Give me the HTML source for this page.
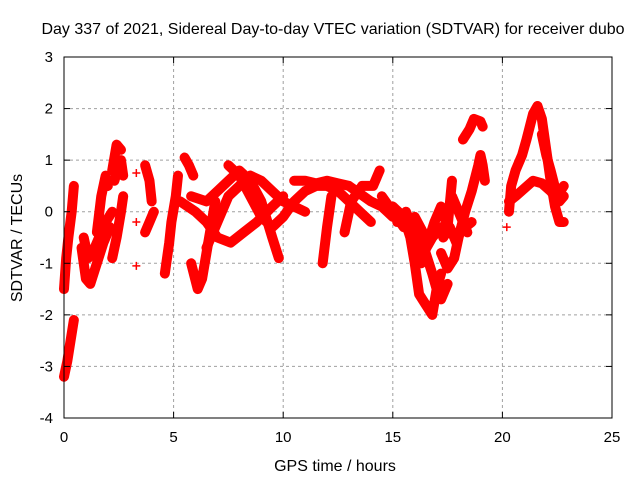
<!DOCTYPE html>
<html><head><meta charset="utf-8"><style>
body{margin:0;background:#fff}
svg{display:block;font-family:"Liberation Sans",sans-serif}
</style></head><body>
<svg id="chart" width="640" height="480">
<rect width="640" height="480" fill="#fff"/>
<text x="333" y="34" font-size="16" text-anchor="middle">Day 337 of 2021, Sidereal Day-to-day VTEC variation (SDTVAR) for receiver dubo</text>
<text x="335" y="471" font-size="16" text-anchor="middle">GPS time / hours</text>
<text transform="translate(22,238) rotate(-90)" font-size="16" text-anchor="middle">SDTVAR / TECUs</text>
<g id="grid"></g><g id="marks"></g>
<rect x="64" y="57" width="548" height="361" fill="none" stroke="#000" stroke-width="1"/>
<g id="ticks"></g>
</svg>
<script>
const xTicks=[0,5,10,15,20,25];
const yTicks=[-4,-3,-2,-1,0,1,2,3];
const trackTimes=[
[0.0,0.1,0.2,0.35,0.45],
[0.0,0.15,0.3,0.45],
[0.8,1.0,1.2,1.5,1.8,2.1],
[1.5,1.7,1.9,2.0],
[2.2,2.4,2.6],
[2.2,2.4,2.6,2.7],
[3.7,3.9,4.0],
[3.7,3.9,4.1],
[4.6,4.8,4.9,5.1,5.2],
[5.5,5.7,5.9],
[5.8,6.1,6.3,6.5,6.7,6.9],
[5.3,6.0,6.5,7.0,7.6,8.2,8.8,9.5,10.0],
[5.8,6.5,7.0,7.5,8.0,8.5,9.0,9.5,9.8],
[6.5,7.0,7.5,8.0,8.5,9.0,9.5,10.0,10.5,11.0],
[7.5,8.0,8.5,9.0,9.5,10.0,10.5,11.0,11.5,12.0,12.5,13.0,13.5,14.0],
[10.5,11.0,11.5,12.0,12.5,13.0,13.5,14.0,14.5,15.0],
[12.2,12.0,11.8],
[12.8,13.1,13.6,14.1,14.4],
[15.0,15.5,15.8,16.0,16.2,16.5,16.8,17.0,17.2],
[16.0,16.3,16.6,16.9,17.2,17.5,17.7],
[17.2,17.5,17.8,18.0,18.3,18.6,18.9,19.0,19.1,19.2],
[18.2,18.5,18.7,19.0,19.1],
[17.7,18.0,18.3,18.6],
[20.3,20.4,20.6,20.9,21.1,21.4,21.6,21.8,22.0,22.2,22.4,22.6,22.8],
[20.3,20.6,21.0,21.4,21.8,22.2,22.6,22.8],
[21.8,22.0,22.2,22.5,22.8],
[14.5,15.0,15.5,16.0,16.5],
[15.2,15.6,16.0,16.4,16.8,17.2],
[16.5,16.8,17.0,17.2,17.5],
[17.3,17.6,17.9,18.2,18.4],
[0.9,1.1,1.3,1.6,1.9,2.2],
[2.3,2.5,2.6,2.7]
];
const trackValues=[
[-1.5,-0.9,-0.5,0.0,0.5],
[-3.2,-2.9,-2.5,-2.1],
[-0.7,-1.3,-1.4,-1.0,-0.6,-0.3],
[-0.4,0.3,0.7,0.5],
[0.8,1.3,1.2],
[-0.9,-0.5,0.0,0.3],
[0.9,0.6,0.2],
[-0.4,-0.2,0.0],
[-1.2,-0.6,-0.2,0.3,0.7],
[1.05,0.9,0.7],
[-1.0,-1.5,-1.3,-0.8,-0.3,0.2],
[0.2,0.0,-0.2,-0.5,-0.6,-0.4,-0.2,0.1,0.3],
[0.3,0.2,0.4,0.6,0.8,0.6,0.2,-0.5,-0.9],
[-0.7,-0.2,0.3,0.5,0.7,0.6,0.4,0.2,0.1,0.0],
[0.9,0.7,0.3,-0.1,-0.3,-0.1,0.2,0.4,0.5,0.5,0.4,0.2,0.0,-0.2],
[0.6,0.6,0.55,0.6,0.55,0.5,0.35,0.2,0.1,-0.1],
[0.3,-0.3,-1.0],
[-0.4,0.2,0.5,0.5,0.8],
[0.1,-0.1,-0.5,-1.0,-1.6,-1.8,-2.0,-1.5,-1.2],
[-0.5,-1.0,-0.6,-0.2,0.1,-0.3,0.6],
[-0.8,-1.1,-0.9,-0.5,0.0,0.4,0.9,1.1,0.9,0.6],
[1.4,1.6,1.8,1.75,1.65],
[0.3,0.0,-0.3,-0.2],
[0.0,0.5,0.8,1.1,1.4,1.9,2.05,1.8,1.2,0.6,0.1,-0.2,-0.2],
[0.2,0.3,0.45,0.6,0.55,0.4,0.2,0.3],
[1.5,1.1,0.8,0.3,0.5],
[0.3,0.0,-0.3,-0.1,-0.5],
[-0.2,0.0,-0.4,-0.8,-0.5,-0.3],
[-0.8,-1.2,-1.5,-1.7,-1.4],
[-0.5,-0.3,-0.6,-0.2,-0.4],
[-0.5,-0.9,-0.8,-0.5,-0.2,0.0],
[0.6,0.9,1.0,0.7]
];
const looseTimes=[3.3,3.3,3.3,20.2];
const looseValues=[0.75,-0.2,-1.05,-0.3];
const NS='http://www.w3.org/2000/svg';
const X=t=>64+t*548/25;
const Y=v=>57+(3-v)*361/7;
function mk(tag,attrs,parent){const e=document.createElementNS(NS,tag);for(const k in attrs)e.setAttribute(k,attrs[k]);parent.appendChild(e);return e;}
const grid=document.getElementById('grid'),ticks=document.getElementById('ticks'),marks=document.getElementById('marks');
xTicks.forEach(t=>{
 if(t>0&&t<25){const g=mk('line',{x1:X(t),x2:X(t),y1:57,y2:418,stroke:'#a0a0a0','stroke-dasharray':'3,3'},grid);
 
 }
 const l=mk('text',{x:X(t),y:442,'font-size':15,'text-anchor':'middle'},ticks);l.textContent=t;
 
 
 mk('line',{x1:X(t),x2:X(t),y1:418,y2:412,stroke:'#000'},ticks);
 mk('line',{x1:X(t),x2:X(t),y1:57,y2:63,stroke:'#000'},ticks);
});
yTicks.forEach(v=>{
 if(v>-4&&v<3){const g=mk('line',{x1:64,x2:612,y1:Y(v),y2:Y(v),stroke:'#a0a0a0','stroke-dasharray':'3,3'},grid);
 
 }
 const l=mk('text',{x:53,y:Y(v)+5,'font-size':15,'text-anchor':'end'},ticks);l.textContent=v;
 
 
 mk('line',{x1:64,x2:70,y1:Y(v),y2:Y(v),stroke:'#000'},ticks);
 mk('line',{x1:612,x2:606,y1:Y(v),y2:Y(v),stroke:'#000'},ticks);
});
function plus(t,v){const x=X(t),y=Y(v);
 const p=mk('path',{d:`M${x-4},${y}H${x+4}M${x},${y-4}V${y+4}`,stroke:'#f00','stroke-width':1.5},marks);
 
 }
trackTimes.forEach((ts,i)=>{
 const vs=trackValues[i];
 const pl=mk('polyline',{points:ts.map((t,j)=>X(t)+','+Y(vs[j])).join(' '),fill:'none',stroke:'#f00','stroke-width':10,'stroke-linejoin':'round','stroke-linecap':'round'},marks);
 
 
 ts.forEach((t,j)=>plus(t,vs[j]));
});
looseTimes.forEach((t,i)=>plus(t,looseValues[i]));
</script>
</body></html>
